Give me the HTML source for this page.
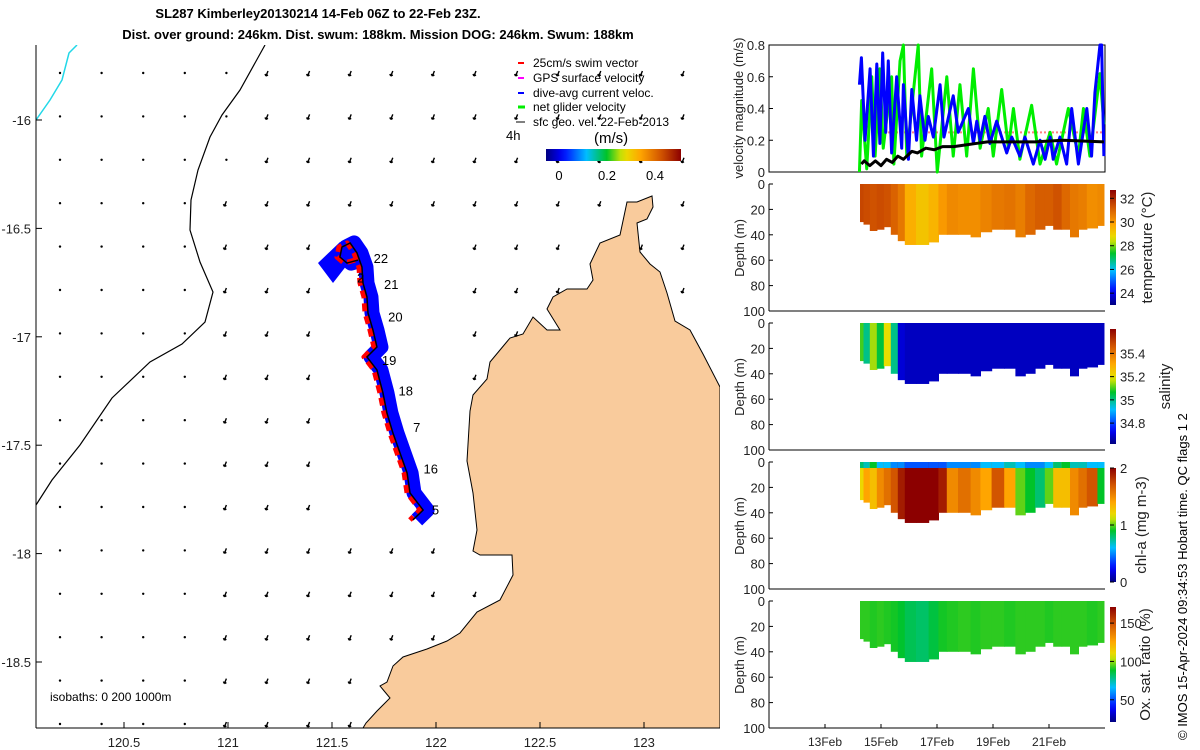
<!DOCTYPE html>
<html><head><meta charset="utf-8"><style>
body{margin:0;background:#fff;}
svg{display:block;font-family:"Liberation Sans",sans-serif;}
</style></head><body>
<svg id="s" width="1200" height="750" viewBox="0 0 1200 750" xmlns="http://www.w3.org/2000/svg">
<text x="318" y="18" text-anchor="middle" font-weight="bold" font-size="13">SL287 Kimberley20130214 14-Feb 06Z to 22-Feb 23Z.</text>
<text x="378" y="39" text-anchor="middle" font-weight="bold" font-size="13">Dist. over ground: 246km. Dist. swum: 188km. Mission DOG: 246km. Swum: 188km</text>
<g id="map">
<clipPath id="mc"><rect x="36" y="45" width="684" height="683"/></clipPath>
<g clip-path="url(#mc)">
<path id="land" fill="#f9cb9c" stroke="#000" stroke-width="1" d="M720,728 L720,387 L703,354 L690,330 L675,321 L667,293 L660,272 L650,264 L640,252 L637,223 L647,219 L653,207 L652,196 L637,202 L627,202 L620,235 L600,243 L590,264 L593,280 L587,289 L567,289 L553,297 L547,309 L560,330 L547,330 L533,317 L523,334 L510,338 L500,350 L490,362 L487,379 L473,395 L470,411 L467,461 L473,493 L477,530 L473,551 L480,555 L512,555 L513,575 L500,600 L477,612 L460,633 L447,641 L427,649 L403,657 L393,666 L387,682 L380,686 L390,698 L377,711 L366,723 L363,728 Z"/>
<path fill="none" stroke="#000" stroke-width="1.2" d="M265,45 L240,90 L222,115 L210,137 L198,170 L191,200 L190,230 L200,262 L213,292 L205,322 L182,344 L150,362 L112,398 L80,445 L52,480 L36,505"/>
<path fill="none" stroke="#22d8e8" stroke-width="1.5" d="M36,120 L50,100 L62,80 L69,53 L77,45"/>
<g id="vec"></g>
<g id="track"></g>
</g>
<line x1="36" y1="45" x2="36" y2="728" stroke="#000"/>
<line x1="36" y1="728" x2="720" y2="728" stroke="#000"/>
<g id="mapticks" font-size="13" fill="#222"></g>
<text x="50" y="701" font-size="12">isobaths: 0   200   1000m</text>
<g font-size="12">
<line x1="518" y1="63" x2="524" y2="63" stroke="#f00" stroke-width="2"/><text x="533" y="67">25cm/s swim vector</text>
<line x1="518" y1="78" x2="524" y2="78" stroke="#f0f" stroke-width="2"/><text x="533" y="82">GPS surface velocity</text>
<line x1="518" y1="93" x2="524" y2="93" stroke="#00f" stroke-width="2"/><text x="533" y="97">dive-avg current veloc.</text>
<line x1="518" y1="107" x2="525" y2="107" stroke="#0e0" stroke-width="3"/><text x="533" y="111">net glider velocity</text>
<line x1="516" y1="122" x2="525" y2="122" stroke="#000" stroke-width="1"/><text x="533" y="126">sfc geo. vel. 22-Feb-2013</text>
<text x="506" y="140" font-size="13">4h</text>
<text x="594" y="143" font-size="15">(m/s)</text>
<rect id="speedbar" x="546" y="149" width="135" height="12"/>
<text x="559" y="180" text-anchor="middle" font-size="13">0</text>
<text x="607" y="180" text-anchor="middle" font-size="13">0.2</text>
<text x="655" y="180" text-anchor="middle" font-size="13">0.4</text>
</g>
</g>
<g id="right"></g>
<text transform="translate(1187,740) rotate(-90)" font-size="13">© IMOS 15-Apr-2024 09:34:53 Hobart time. QC flags 1  2</text>
</svg>
<script>
const NS="http://www.w3.org/2000/svg";
const svg=document.getElementById('s');
function mk(tag,attrs,parent){const e=document.createElementNS(NS,tag);for(const k in attrs)e.setAttribute(k,attrs[k]);(parent||svg).appendChild(e);return e;}
const CM=[[0,[0,0,128]],[0.12,[0,0,255]],[0.3,[0,190,255]],[0.45,[0,195,40]],[0.57,[230,230,0]],[0.7,[255,165,0]],[0.85,[210,85,0]],[1,[140,0,0]]];
function jet(t){t=Math.max(0,Math.min(1,t));for(let i=1;i<CM.length;i++){if(t<=CM[i][0]){const a=CM[i-1],b=CM[i];const f=(t-a[0])/(b[0]-a[0]);const c=a[1].map((v,k)=>Math.round(v+(b[1][k]-v)*f));return `rgb(${c[0]},${c[1]},${c[2]})`;}}return 'rgb(140,0,0)';}

// ---- map data ----
const mapLonTicks=[120.5,121,121.5,122,122.5,123];
const mapLatTicks=[-16,-16.5,-17,-17.5,-18,-18.5];
const trackLon=[121.625,121.572,121.538,121.548,121.587,121.620,121.644,121.649,121.668,121.673,121.697,121.716,121.668,121.716,121.745,121.764,121.793,121.827,121.861,121.875,121.938,121.889];
const trackLat=[-16.646,-16.660,-16.632,-16.586,-16.567,-16.613,-16.678,-16.752,-16.816,-16.890,-16.969,-17.047,-17.093,-17.153,-17.259,-17.351,-17.444,-17.536,-17.628,-17.720,-17.799,-17.845];
const dayLabels=["22","2","21","20","19","18","7","16","5"];
const dayLon=[121.70,121.62,121.75,121.77,121.74,121.82,121.89,121.94,121.98];
const dayLat=[-16.66,-16.75,-16.78,-16.93,-17.13,-17.27,-17.44,-17.63,-17.82];
const mx=lon=>228+(lon-121)*208;
const my=lat=>120+(-16-lat)*216.8;

const mt=document.getElementById('mapticks');
mapLonTicks.forEach(v=>{const x=mx(v);
 const l=mk('line',{x1:x,y1:728,x2:x,y2:722,stroke:'#000'},mt);
 
 
 const t=mk('text',{x:x,y:747,'text-anchor':'middle'},mt);t.textContent=v;
 
 });
mapLatTicks.forEach(v=>{const y=my(v);
 const l=mk('line',{x1:36,y1:y,x2:42,y2:y,stroke:'#000'},mt);
 
 
 const t=mk('text',{x:31,y:y+5,'text-anchor':'end'},mt);t.textContent=v;
 
 });

const sb=document.getElementById('speedbar');
const sg=mk('linearGradient',{id:'jetg'});
for(let i=0;i<=20;i++)mk('stop',{offset:(i*5)+'%','stop-color':jet(i/20)},sg);
svg.insertBefore(sg,svg.firstChild);
sb.setAttribute('fill','url(#jetg)');

const land=document.getElementById('land');
const vg=document.getElementById('vec');
for(let r=0;r<16;r++)for(let c=0;c<16;c++){
 const x=60+c*41.6,y=73+r*43.4;
 if(land.isPointInFill&&land.isPointInFill(new DOMPoint(x,y)))continue;
 if(x>330&&x<440&&y>230&&y<540)continue;
 const dot=(x<200||(x<250&&r<3));
 const e=dot?mk('circle',{cx:x,cy:y,r:1.2,fill:'#000'},vg):mk('path',{d:`M${x},${y-2} L${x-2},${y+3} M${x-2},${y+3} l-1,-2 M${x-2},${y+3} l2,-1`,stroke:'#000','stroke-width':1.4,fill:'none'},vg);
 
 
}
const tg=document.getElementById('track');
const pts=trackLon.map((v,i)=>[mx(v),my(trackLat[i])]);
const ptsStr=(dx,dy)=>pts.map(p=>(p[0]+dx)+','+(p[1]+dy)).join(' ');
const blob=mk('polygon',{points:'318,263 340,242 354,256 333,283',fill:'#0000ff'},tg);


const bl=mk('polyline',{points:ptsStr(4,0),fill:'none',stroke:'#0000ff','stroke-width':15,'stroke-linejoin':'round'},tg);


const rd=mk('polyline',{points:ptsStr(-3,0),fill:'none',stroke:'#ff0000','stroke-width':5,'stroke-linejoin':'round','stroke-dasharray':'8 5'},tg);


const tl=mk('polyline',{points:ptsStr(0,0),fill:'none',stroke:'#000','stroke-width':1.5},tg);


dayLabels.forEach((d,i)=>{const t=mk('text',{x:mx(dayLon[i]),y:my(dayLat[i]),'font-size':13},tg);t.textContent=d;
 
 });

// ---- right panels ----
const R=document.getElementById('right');
const rx=d=>769+(d-11)*28;
const dateTicks=[13,15,17,19,21];
const dateLabels=["13Feb","15Feb","17Feb","19Feb","21Feb"];
const velTicks=[0,0.2,0.4,0.6,0.8];
const blueT=[14.23,14.30,14.43,14.61,14.73,14.85,14.96,15.06,15.17,15.26,15.38,15.56,15.74,15.80,15.98,16.10,16.27,16.39,16.57,16.69,16.87,17.11,17.25,17.58,17.76,18.12,18.30,18.42,18.54,18.71,18.89,19.13,19.49,19.67,19.96,20.14,20.44,20.68,20.86,21.04,21.15,21.39,21.63,21.81,22.05,22.35,22.52,22.64,22.82,22.88,22.96];
const blueV=[0.55,0.72,0.2,0.65,0.1,0.68,0.18,0.75,0.25,0.7,0.12,0.6,0.15,0.55,0.08,0.52,0.2,0.48,0.2,0.35,0.22,0.55,0.22,0.48,0.25,0.4,0.18,0.32,0.2,0.35,0.18,0.32,0.12,0.22,0.1,0.22,0.05,0.2,0.08,0.22,0.08,0.22,0.05,0.4,0.05,0.4,0.1,0.5,0.8,0.8,0.1];
const greenT=[14.23,14.31,14.49,14.67,14.79,14.96,15.08,15.38,15.46,15.68,15.80,15.92,16.33,16.45,16.81,17.01,17.35,17.58,17.82,18.06,18.30,18.54,18.83,19.01,19.31,19.55,19.73,19.96,20.38,20.68,21.04,21.27,21.69,22.05,22.23,22.46,22.82,22.96];
const greenV=[0,0.45,0.02,0.6,0.1,0.65,0.15,0.6,0.05,0.7,0.8,0.1,0.8,0.1,0.65,0.0,0.6,0.1,0.55,0.1,0.65,0.15,0.4,0.1,0.52,0.15,0.4,0.08,0.42,0.05,0.25,0.05,0.4,0.1,0.4,0.1,0.62,0.3];
const blackT=[14.3,14.4,14.6,14.8,15.0,15.2,15.4,15.6,15.8,16.1,16.3,16.6,16.9,17.2,17.6,18.0,18.4,18.8,19.5,20.5,21.5,22.96];
const blackV=[0.05,0.07,0.04,0.07,0.04,0.08,0.06,0.1,0.08,0.13,0.12,0.15,0.14,0.16,0.16,0.17,0.18,0.19,0.19,0.19,0.2,0.19];
const swimT=[14.25,22.96];
const swimV=[0.25,0.25];
const vy=v=>172-v*127/0.8;
const ax=(tag,a,name)=>{const e=mk(tag,a,R);return e;};
ax('rect',{x:769,y:45,width:336,height:127,fill:'none',stroke:'#000'},'velocity-axes-box');
velTicks.forEach(v=>{ax('line',{x1:769,y1:vy(v),x2:773,y2:vy(v),stroke:'#000'},'velocity-y-tick');
 const t=ax('text',{x:765,y:vy(v)+5,'text-anchor':'end','font-size':13,fill:'#222'},'velocity-y-tick-label');t.textContent=v;});
const line=(T,V,col,w,name,extra)=>{const a=Object.assign({points:T.map((t,i)=>rx(t)+','+vy(V[i])).join(' '),fill:'none',stroke:col,'stroke-width':w,'stroke-linejoin':'round'},extra||{});ax('polyline',a,name);};
line(swimT,swimV,'#ff8080',2,'swim-speed-line',{'stroke-dasharray':'2 2'});
line(greenT,greenV,'#00ee00',3,'net-glider-velocity-line');
line(blueT,blueV,'#0000ff',3,'dive-avg-current-line');
line(blackT,blackV,'#000',3,'surface-geo-velocity-line');
const yl=ax('text',{transform:'translate(743,108) rotate(-90)','text-anchor':'middle','font-size':13,fill:'#222'},'velocity-y-axis-title');yl.textContent='velocity magnitude (m/s)';

const secT=[14.25,14.5,14.7,15.0,15.2,15.5,15.7,16.0,16.5,16.9,17.2,17.5,18.0,18.4,18.7,19.2,19.6,20.0,20.3,20.7,21.0,21.3,21.6,21.9,22.2,22.5,22.96];
const secBottom=[30,32,37,36,34,40,45,48,48,46,40,40,40,42,38,36,36,42,40,36,33,36,36,42,36,35,33];
const tempV=[31.5,31.4,31.3,31.4,31.3,31.0,30.6,29.6,29.2,29.5,30.0,30.3,30.2,30.2,30.4,30.6,30.7,30.5,30.9,31.1,31.1,31.3,30.9,30.6,30.5,30.2,30.3];
const salV=[35.1,35.0,35.15,35.05,35.2,35.0,34.7,34.68,34.68,34.68,34.68,34.68,34.68,34.68,34.68,34.68,34.68,34.68,34.68,34.68,34.68,34.68,34.68,34.68,34.68,34.68,34.68];
const chlSurf=[0.8,0.7,0.9,0.6,0.6,0.5,0.5,0.4,0.4,0.4,0.4,0.5,0.5,0.5,0.6,0.6,0.7,0.6,0.5,0.5,0.6,0.8,0.9,0.7,0.7,0.6,0.6];
const chlMid=[1.2,1.4,1.3,1.5,1.6,1.7,1.9,2,2,2,1.9,1.5,1.6,1.5,1.4,1.7,1.4,1.0,0.9,0.8,1.0,1.3,1.3,1.5,1.6,1.7,0.9];
const oxV=[92,92,91,92,91,90,88,84,82,86,90,91,92,91,92,92,91,92,92,92,91,92,92,92,92,91,92];
const depthTicks=[0,20,40,60,80,100];

const panels=[
 {top:184,vals:tempV,vmin:23,vmax:32.7,cbTicks:[24,26,28,30,32],cbTop:190,cbBot:305,title:'temperature (°C)',tx:1152,name:'temperature'},
 {top:323,vals:salV,vmin:34.62,vmax:35.61,cbTicks:[34.8,35,35.2,35.4],cbTop:329,cbBot:444,title:'salinity',tx:1170,name:'salinity'},
 {top:462,vals:chlMid,surf:chlSurf,vmin:0,vmax:2,cbTicks:[0,1,2],cbTop:468,cbBot:582,title:'chl-a (mg m-3)',tx:1146,name:'chlorophyll'},
 {top:601,vals:oxV,vmin:21,vmax:171,cbTicks:[50,100,150],cbTop:607,cbBot:722,title:'Ox. sat. ratio (%)',tx:1150,name:'oxygen'}];
panels.forEach((p,pi)=>{
 const dy=d=>p.top+d*1.27;
 for(let i=0;i<secT.length;i++){
  const x0=rx(i===0?secT[0]:(secT[i-1]+secT[i])/2), x1=rx(i===secT.length-1?secT[i]:(secT[i]+secT[i+1])/2);
  const col=jet((p.vals[i]-p.vmin)/(p.vmax-p.vmin));
  ax('rect',{x:x0,y:dy(0),width:x1-x0+0.6,height:secBottom[i]*1.27,fill:col},p.name+'-section-column');
  if(p.surf){ax('rect',{x:x0,y:dy(0),width:x1-x0+0.6,height:6,fill:jet((p.surf[i]-p.vmin)/(p.vmax-p.vmin))},p.name+'-surface-cell');}
 }
 ax('line',{x1:769,y1:p.top,x2:769,y2:p.top+127,stroke:'#000'},p.name+'-y-axis');
 ax('line',{x1:769,y1:p.top+127,x2:1105,y2:p.top+127,stroke:'#000'},p.name+'-x-axis');
 depthTicks.forEach(d=>{ax('line',{x1:769,y1:dy(d),x2:773,y2:dy(d),stroke:'#000'},p.name+'-depth-tick');
  const t=ax('text',{x:765,y:dy(d)+5,'text-anchor':'end','font-size':13,fill:'#222'},p.name+'-depth-tick-label');t.textContent=d;});
 const yt=ax('text',{transform:`translate(744,${p.top+64}) rotate(-90)`,'text-anchor':'middle','font-size':13,fill:'#222'},p.name+'-y-axis-title');yt.textContent='Depth (m)';
 const gid='cb'+pi;const g=mk('linearGradient',{id:gid,x1:0,y1:1,x2:0,y2:0});
 for(let i=0;i<=20;i++)mk('stop',{offset:(i*5)+'%','stop-color':jet(i/20)},g);
 svg.insertBefore(g,svg.firstChild);
 ax('rect',{x:1110,y:p.cbTop,width:6,height:p.cbBot-p.cbTop,fill:`url(#${gid})`},p.name+'-colorbar');
 const cy=v=>p.cbBot-(v-p.vmin)/(p.vmax-p.vmin)*(p.cbBot-p.cbTop);
 p.cbTicks.forEach(v=>{ax('line',{x1:1110,y1:cy(v),x2:1114,y2:cy(v),stroke:'#000'},p.name+'-colorbar-tick');
  const t=ax('text',{x:1120,y:cy(v)+5,'font-size':13,fill:'#222'},p.name+'-colorbar-label');t.textContent=v;});
 const ct=ax('text',{transform:`translate(${p.tx},${(p.cbTop+p.cbBot)/2}) rotate(-90)`,'text-anchor':'middle','font-size':15,fill:'#222'},p.name+'-colorbar-title');ct.textContent=p.title;
});
dateTicks.forEach((d,i)=>{ax('line',{x1:rx(d),y1:728,x2:rx(d),y2:724,stroke:'#000'},'date-tick');
 const t=ax('text',{x:rx(d),y:746,'text-anchor':'middle','font-size':12,fill:'#222'},'date-tick-label');t.textContent=dateLabels[i];});
</script>
</body></html>
